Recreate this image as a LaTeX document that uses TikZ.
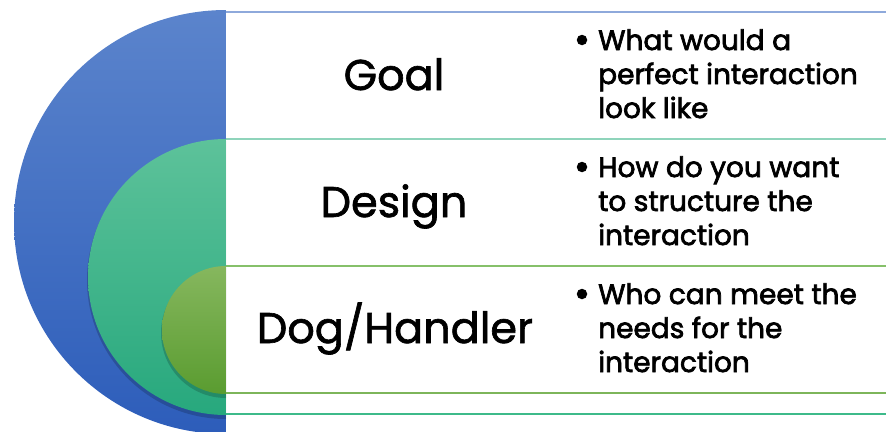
\documentclass[tikz,border=0pt]{standalone}
\usepackage{fontspec}
\setmainfont{Poppins}
\newfontfamily\bulfont{Poppins}[FakeBold=2.5]
\newfontfamily\lblfont{Poppins}[FakeBold=1.5]
\begin{document}
\begin{tikzpicture}[x=1pt,y=-1pt,
  lbl/.style={font=\lblfont\fontsize{43}{48}\selectfont, anchor=base, inner sep=0pt},
  btxt/.style={font=\bulfont\fontsize{28}{34}\selectfont, align=left, anchor=base west, inner sep=0pt},
  bdot/.style={circle, fill=black, inner sep=0pt, minimum size=10.5pt},
  rowline/.style={line width=1.2pt}]
\definecolor{bluetop}{HTML}{5B84CC}
\definecolor{bluebot}{HTML}{2D5DBA}
\definecolor{grtop}{HTML}{5DC29A}
\definecolor{grbot}{HTML}{27A87D}
\definecolor{lgtop}{HTML}{86B75E}
\definecolor{lgbot}{HTML}{5A9C30}
\definecolor{l1}{HTML}{8EA9DB}
\definecolor{l2}{HTML}{8FD4BB}
\definecolor{l3}{HTML}{86C06A}
\definecolor{l4}{HTML}{7DB55A}
\definecolor{l5}{HTML}{3DBA8A}
\useasboundingbox (0,0) rectangle (886,431);
\begin{scope}
\clip (0,0) rectangle (226,431);
\shade[top color=bluetop, bottom color=bluebot] (226,10) arc[start angle=270, end angle=90, radius=212] -- cycle;
\fill[black, opacity=0.18] (226,141) arc[start angle=270, end angle=90, radius=139] -- cycle;
\shade[top color=grtop, bottom color=grbot] (226,139) arc[start angle=270, end angle=90, radius=138] -- cycle;
\fill[black, opacity=0.18] (226,268) arc[start angle=270, end angle=90, radius=65] -- cycle;
\shade[top color=lgtop, bottom color=lgbot] (226,266) arc[start angle=270, end angle=90, radius=64] -- cycle;
\end{scope}
\draw[rowline, l1] (226,12) -- (886,12);
\draw[rowline, l2] (226,139) -- (886,139);
\draw[rowline, l3] (226,266) -- (886,266);
\draw[rowline, l4] (226,393) -- (886,393);
\draw[rowline, l5] (226,414) -- (886,414);
\node[lbl] (goal) at (394,90) {Goal};
\node[lbl] (design) at (394,217) {Design};
\node[lbl] (dog) at (395,343) {Dog/Handler};
\node[bdot] (d1) at (582,40) {};
\node[bdot] (d2) at (582,167) {};
\node[bdot] (d3) at (582,294) {};
\node[btxt] (t1) at (598,118) {What would a\\perfect interaction\\look like};
\node[btxt] (t2) at (598,245) {How do you want\\to structure the\\interaction};
\node[btxt] (t3) at (598,372) {Who can meet the\\needs for the\\interaction};
\end{tikzpicture}
\end{document}
